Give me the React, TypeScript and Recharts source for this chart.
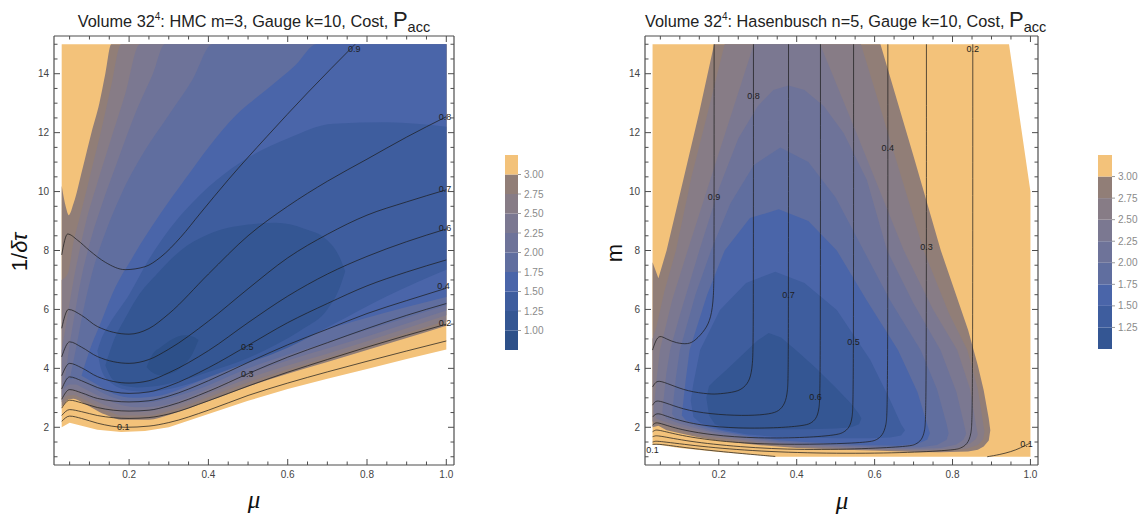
import React from "react";
import { Area, Bar, BarChart, ComposedChart, Line, Scatter, XAxis, YAxis } from "recharts";

// [mu, low, high] for a filled region, [mu, y] for a contour line, [mu, y, text] for a line label
type Band = [number, number, number];
type Pt = [number, number];
type Lbl = [number, number, string];

const MU_DOMAIN: [number, number] = [0.0106, 1.0194];
const Y_DOMAIN: [number, number] = [0.72, 15.28];
const MU_TICKS = [0.05, 0.1, 0.15, 0.2, 0.25, 0.3, 0.35, 0.4, 0.45, 0.5, 0.55, 0.6, 0.65, 0.7, 0.75, 0.8, 0.85, 0.9, 0.95, 1.0];
const MU_MAJOR = [0.2, 0.4, 0.6, 0.8, 1.0];
const Y_TICKS = [1, 1.5, 2, 2.5, 3, 3.5, 4, 4.5, 5, 5.5, 6, 6.5, 7, 7.5, 8, 8.5, 9, 9.5, 10, 10.5, 11, 11.5, 12, 12.5, 13, 13.5, 14, 14.5, 15];
const Y_MAJOR = [2, 4, 6, 8, 10, 12, 14];

// cost bands, from the legend
const C_OVER3 = "#f3c27a";
const C_300 = "#917e77";
const C_275 = "#877c86";
const C_250 = "#7b7891";
const C_225 = "#6e7399";
const C_200 = "#606e9f";
const C_175 = "#4a65a9";
const C_150 = "#3e5d9e";
const C_125 = "#345693";
const C_100 = "#2d5089";

// ---------- left: HMC, axis 1/dtau ----------
const L_BASE: Band[] = [
  [0.03, 2.0, 15], [0.05, 2.15, 15], [0.08, 2.05, 15], [0.12, 1.92, 15], [0.18, 1.84, 15], [0.24, 1.87, 15],
  [0.3, 2.0, 15], [0.4, 2.45, 15], [0.5, 2.9, 15], [0.6, 3.3, 15], [0.7, 3.65, 15], [0.8, 3.98, 15], [0.9, 4.32, 15], [1.0, 4.64, 15],
];
const L_LT300: Band[] = [
  [0.03, 2.7, 10.2], [0.04, 2.85, 9.5], [0.048, 2.95, 9.2], [0.06, 2.97, 9.6], [0.083, 2.83, 10.8], [0.105, 2.67, 12.0],
  [0.125, 2.52, 13.0], [0.14, 2.43, 14.0], [0.155, 2.35, 15], [0.18, 2.26, 15], [0.25, 2.26, 15], [0.3, 2.42, 15],
  [0.4, 2.88, 15], [0.5, 3.38, 15], [0.6, 3.82, 15], [0.7, 4.22, 15], [0.8, 4.62, 15], [0.9, 5.03, 15], [1.0, 5.45, 15],
];
const L_LT275: Band[] = [
  [0.03, 2.85, 7.0], [0.045, 3.08, 7.2], [0.06, 3.1, 8.3], [0.075, 3.02, 9.1], [0.09, 2.92, 9.9], [0.11, 2.78, 11.0],
  [0.13, 2.64, 12.1], [0.155, 2.5, 13.6], [0.18, 2.4, 15], [0.25, 2.4, 15], [0.3, 2.55, 15], [0.4, 3.02, 15],
  [0.5, 3.52, 15], [0.6, 3.96, 15], [0.7, 4.36, 15], [0.8, 4.77, 15], [0.9, 5.2, 15], [1.0, 5.62, 15],
];
const L_LT250: Band[] = [
  [0.03, 3.0, 4.6], [0.045, 3.25, 5.8], [0.06, 3.27, 7.0], [0.075, 3.18, 8.0], [0.09, 3.06, 8.9], [0.12, 2.87, 10.3],
  [0.15, 2.7, 11.6], [0.19, 2.55, 13.3], [0.227, 2.52, 15], [0.3, 2.68, 15], [0.4, 3.15, 15], [0.5, 3.66, 15],
  [0.6, 4.1, 15], [0.7, 4.5, 15], [0.8, 4.92, 15], [0.9, 5.36, 15], [1.0, 5.8, 15],
];
const L_LT225: Band[] = [
  [0.035, 3.3, 3.3], [0.05, 3.45, 4.8], [0.065, 3.45, 6.0], [0.08, 3.36, 7.1], [0.1, 3.22, 8.2], [0.13, 3.02, 9.5],
  [0.17, 2.8, 11.0], [0.22, 2.68, 12.8], [0.26, 2.7, 14.0], [0.29, 2.76, 15], [0.4, 3.3, 15], [0.5, 3.82, 15],
  [0.6, 4.27, 15], [0.7, 4.67, 15], [0.8, 5.08, 15], [0.9, 5.52, 15], [1.0, 5.96, 15],
];
const L_LT200: Band[] = [
  [0.05, 3.62, 3.62], [0.065, 3.65, 4.6], [0.085, 3.55, 6.0], [0.11, 3.34, 7.4], [0.14, 3.12, 8.6], [0.18, 2.93, 9.9],
  [0.24, 2.84, 11.4], [0.3, 2.98, 12.6], [0.36, 3.22, 13.8], [0.41, 3.48, 15], [0.5, 4.0, 15], [0.6, 4.46, 15],
  [0.7, 4.88, 15], [0.8, 5.3, 15], [0.9, 5.72, 15], [1.0, 6.14, 15],
];
const L_LT175: Band[] = [
  [0.08, 3.75, 3.75], [0.1, 3.6, 4.6], [0.13, 3.36, 5.6], [0.16, 3.14, 6.6], [0.21, 3.0, 7.8], [0.28, 3.08, 9.27],
  [0.34, 3.36, 10.4], [0.4, 3.7, 11.5], [0.47, 4.1, 12.6], [0.55, 4.55, 13.5], [0.62, 4.92, 14.3], [0.673, 5.2, 15],
  [0.8, 5.72, 15], [0.9, 6.08, 15], [1.0, 6.42, 15],
];
const L_LT150: Band[] = [
  [0.12, 4.6, 4.6], [0.13, 3.95, 5.0], [0.15, 3.55, 5.5], [0.2, 3.25, 6.5], [0.25, 3.2, 7.7], [0.295, 3.28, 8.6],
  [0.38, 3.6, 9.9], [0.46, 4.0, 10.8], [0.6, 4.7, 11.8], [0.715, 5.5, 12.3], [0.85, 6.45, 12.35], [1.0, 7.35, 12.2],
];
const L_LT125: Band[] = [
  [0.14, 4.1, 4.1], [0.16, 3.6, 4.9], [0.19, 3.4, 5.7], [0.22, 3.35, 6.4], [0.27, 3.4, 7.2], [0.33, 3.58, 8.0],
  [0.4, 3.88, 8.55], [0.5, 4.35, 8.88], [0.57, 4.8, 8.94], [0.64, 5.35, 8.75], [0.7, 6.0, 8.35], [0.73, 6.7, 7.8], [0.745, 7.3, 7.3],
];
const L_LT100: Band[] = [
  [0.244, 4.05, 4.05], [0.26, 3.85, 4.5], [0.278, 3.77, 4.7], [0.31, 3.85, 5.0], [0.34, 4.15, 5.12], [0.36, 4.5, 5.08], [0.375, 4.96, 4.96],
];

const L_P01: Pt[] = [[0.03, 2.2], [0.05, 2.38], [0.08, 2.3], [0.12, 2.14], [0.19, 2.0], [0.25, 2.04], [0.3, 2.16], [0.4, 2.58], [0.5, 3.08], [0.6, 3.5], [0.7, 3.88], [0.8, 4.24], [0.9, 4.59], [1.0, 4.93]];
const L_P02: Pt[] = [[0.03, 2.4], [0.05, 2.6], [0.08, 2.53], [0.12, 2.4], [0.2, 2.3], [0.25, 2.33], [0.3, 2.45], [0.4, 2.9], [0.5, 3.4], [0.6, 3.87], [0.7, 4.3], [0.8, 4.72], [0.9, 5.12], [1.0, 5.5]];
const L_P03: Pt[] = [[0.03, 2.65], [0.05, 2.92], [0.08, 2.83], [0.12, 2.67], [0.2, 2.55], [0.25, 2.58], [0.3, 2.73], [0.4, 3.22], [0.5, 3.82], [0.6, 4.38], [0.7, 4.87], [0.8, 5.35], [0.9, 5.8], [1.0, 6.2]];
const L_P04: Pt[] = [[0.03, 2.95], [0.05, 3.28], [0.08, 3.17], [0.12, 2.98], [0.2, 2.86], [0.25, 2.9], [0.3, 3.06], [0.4, 3.58], [0.5, 4.2], [0.6, 4.8], [0.7, 5.33], [0.8, 5.86], [0.9, 6.3], [1.0, 6.72]];
const L_P05: Pt[] = [[0.03, 3.3], [0.05, 3.71], [0.08, 3.58], [0.12, 3.35], [0.2, 3.15], [0.25, 3.2], [0.3, 3.4], [0.4, 4.02], [0.5, 4.78], [0.6, 5.55], [0.7, 6.2], [0.8, 6.8], [0.9, 7.27], [1.0, 7.68]];
const L_P06: Pt[] = [[0.03, 3.75], [0.05, 4.17], [0.08, 4.02], [0.12, 3.72], [0.2, 3.5], [0.25, 3.58], [0.3, 3.85], [0.4, 4.6], [0.5, 5.55], [0.6, 6.45], [0.7, 7.2], [0.8, 7.8], [0.9, 8.3], [1.0, 8.73]];
const L_P07: Pt[] = [[0.03, 4.39], [0.05, 4.9], [0.08, 4.72], [0.12, 4.4], [0.2, 4.17], [0.25, 4.3], [0.3, 4.65], [0.4, 5.6], [0.5, 6.7], [0.6, 7.75], [0.7, 8.55], [0.8, 9.2], [0.9, 9.65], [1.0, 10.06]];
const L_P08: Pt[] = [[0.03, 5.36], [0.047, 6.0], [0.08, 5.8], [0.12, 5.42], [0.2, 5.16], [0.25, 5.35], [0.3, 5.85], [0.4, 7.2], [0.5, 8.5], [0.6, 9.5], [0.7, 10.35], [0.8, 11.1], [0.9, 11.85], [1.0, 12.54]];
const L_P09: Pt[] = [[0.03, 7.85], [0.045, 8.56], [0.07, 8.35], [0.1, 8.0], [0.14, 7.6], [0.19, 7.35], [0.24, 7.45], [0.28, 7.78], [0.33, 8.45], [0.38, 9.27], [0.45, 10.4], [0.547, 11.86], [0.65, 13.35], [0.77, 15]];

const L_LABELS: Lbl[] = [
  [0.768, 14.85, "0.9"], [0.997, 12.54, "0.8"], [0.997, 10.1, "0.7"], [0.997, 8.78, "0.6"], [0.993, 6.8, "0.4"],
  [0.997, 5.55, "0.2"], [0.498, 4.73, "0.5"], [0.498, 3.8, "0.3"], [0.185, 2.02, "0.1"],
];

// ---------- right: Hasenbusch, axis m ----------
const R_BASE: Band[] = [
  [0.03, 1.4, 15], [0.04, 1.42, 15], [0.1, 1.3, 15], [0.2, 1.16, 15], [0.3, 1.05, 15], [0.34, 1.0, 15], [0.945, 1.0, 15], [1.0, 1.0, 10.0],
];
const R_LT300: Band[] = [
  [0.03, 2.0, 7.6], [0.045, 2.05, 7.06], [0.066, 1.9, 8.0], [0.1, 1.8, 9.9], [0.15, 1.65, 12.7], [0.188, 1.57, 15],
  [0.3, 1.4, 15], [0.4, 1.3, 15], [0.5, 1.25, 15], [0.615, 1.2, 15], [0.7, 1.16, 11.2], [0.77, 1.15, 8.0],
  [0.84, 1.18, 5.3], [0.865, 1.24, 4.1], [0.88, 1.35, 3.26], [0.893, 1.55, 2.3], [0.897, 1.9, 1.9],
];
const R_LT275: Band[] = [
  [0.03, 2.2, 5.0], [0.04, 2.2, 5.4], [0.06, 2.08, 6.6], [0.09, 1.95, 8.0], [0.13, 1.8, 10.5], [0.17, 1.69, 12.6],
  [0.215, 1.61, 15], [0.3, 1.46, 15], [0.4, 1.34, 15], [0.5, 1.28, 15], [0.565, 1.25, 15], [0.65, 1.22, 11.3],
  [0.726, 1.2, 8.0], [0.79, 1.22, 5.9], [0.838, 1.28, 4.62], [0.865, 1.4, 3.3], [0.878, 1.58, 2.2], [0.882, 1.85, 1.85],
];
const R_LT250: Band[] = [
  [0.033, 2.55, 2.55], [0.04, 2.3, 3.6], [0.049, 2.25, 4.62], [0.08, 2.1, 6.3], [0.12, 1.95, 8.0], [0.2, 1.7, 11.3],
  [0.29, 1.52, 15], [0.4, 1.38, 15], [0.46, 1.34, 15], [0.55, 1.29, 12.1], [0.675, 1.24, 8.0], [0.75, 1.24, 6.0],
  [0.812, 1.3, 4.62], [0.845, 1.45, 3.3], [0.86, 1.6, 2.1], [0.865, 1.75, 1.75],
];
const R_LT225: Band[] = [
  [0.055, 2.5, 2.5], [0.065, 2.3, 3.8], [0.075, 2.25, 4.62], [0.1, 2.12, 5.8], [0.15, 1.93, 8.0], [0.2, 1.77, 10.1],
  [0.25, 1.66, 11.8], [0.3, 1.56, 12.9], [0.34, 1.49, 13.45], [0.379, 1.44, 13.6], [0.42, 1.41, 13.45], [0.47, 1.37, 12.9],
  [0.52, 1.34, 12.0], [0.58, 1.31, 10.4], [0.632, 1.29, 8.0], [0.7, 1.27, 6.2], [0.769, 1.3, 4.62], [0.81, 1.42, 3.2],
  [0.828, 1.58, 2.2], [0.835, 1.78, 1.78],
];
const R_LT200: Band[] = [
  [0.08, 2.45, 2.45], [0.09, 2.28, 3.7], [0.1, 2.22, 4.62], [0.14, 2.05, 6.5], [0.18, 1.88, 8.0], [0.23, 1.76, 9.6],
  [0.29, 1.63, 10.9], [0.358, 1.5, 11.5], [0.43, 1.45, 11.0], [0.5, 1.4, 9.8], [0.572, 1.35, 8.0], [0.64, 1.32, 6.3],
  [0.718, 1.32, 4.62], [0.76, 1.4, 3.3], [0.785, 1.58, 2.1], [0.79, 1.8, 1.8],
];
const R_LT175: Band[] = [
  [0.105, 2.4, 2.4], [0.115, 2.25, 3.6], [0.125, 2.2, 4.62], [0.17, 2.0, 6.5], [0.215, 1.86, 8.0], [0.28, 1.7, 9.1],
  [0.354, 1.56, 9.4], [0.43, 1.49, 9.0], [0.503, 1.44, 8.0], [0.58, 1.39, 6.3], [0.66, 1.37, 4.62], [0.71, 1.44, 3.2],
  [0.735, 1.58, 2.1], [0.742, 1.8, 1.8],
];
const R_LT150: Band[] = [
  [0.128, 2.9, 2.9], [0.135, 2.35, 3.5], [0.152, 2.15, 4.62], [0.203, 1.93, 5.98], [0.27, 1.76, 6.9], [0.345, 1.68, 7.28],
  [0.42, 1.65, 6.9], [0.503, 1.63, 5.98], [0.589, 1.63, 4.28], [0.64, 1.65, 2.92], [0.668, 1.72, 2.1], [0.678, 1.9, 1.9],
];
const R_LT125: Band[] = [
  [0.168, 3.0, 3.0], [0.175, 2.4, 3.4], [0.19, 2.1, 3.6], [0.22, 1.98, 3.95], [0.26, 1.94, 4.45], [0.3, 1.93, 4.95],
  [0.328, 1.93, 5.2], [0.36, 1.93, 5.05], [0.4, 1.93, 4.6], [0.45, 1.94, 4.0], [0.5, 1.96, 3.35], [0.54, 2.0, 2.8],
  [0.56, 2.1, 2.45], [0.566, 2.3, 2.3],
];

const R_P09: Pt[] = [[0.188, 15], [0.188, 7.5], [0.187, 6.4], [0.18, 5.7], [0.165, 5.3], [0.14, 4.95], [0.122, 4.81], [0.09, 4.86], [0.065, 5.0], [0.048, 5.13], [0.038, 4.95], [0.03, 4.62]];
const R_P08: Pt[] = [[0.289, 15], [0.289, 5], [0.287, 4.1], [0.28, 3.6], [0.265, 3.35], [0.246, 3.2], [0.2, 3.13], [0.177, 3.12], [0.12, 3.22], [0.075, 3.45], [0.045, 3.6], [0.036, 3.5], [0.03, 3.37]];
const R_P07: Pt[] = [[0.379, 15], [0.379, 4], [0.377, 3.2], [0.37, 2.8], [0.355, 2.55], [0.332, 2.45], [0.28, 2.39], [0.2, 2.42], [0.12, 2.56], [0.07, 2.8], [0.042, 2.92], [0.035, 2.85], [0.03, 2.75]];
const R_P06: Pt[] = [[0.461, 15], [0.461, 3.3], [0.458, 2.6], [0.45, 2.28], [0.435, 2.12], [0.418, 2.06], [0.36, 1.98], [0.25, 1.96], [0.15, 2.06], [0.08, 2.3], [0.045, 2.49], [0.036, 2.43], [0.03, 2.35]];
const R_P05: Pt[] = [[0.546, 15], [0.546, 3.0], [0.543, 2.3], [0.535, 1.98], [0.52, 1.82], [0.503, 1.74], [0.43, 1.65], [0.3, 1.62], [0.18, 1.73], [0.09, 1.95], [0.042, 2.18], [0.035, 2.13], [0.03, 2.07]];
const R_P04: Pt[] = [[0.634, 15], [0.634, 2.7], [0.63, 2.05], [0.62, 1.72], [0.605, 1.57], [0.589, 1.5], [0.5, 1.43], [0.33, 1.41], [0.2, 1.52], [0.1, 1.72], [0.042, 1.93], [0.035, 1.89], [0.03, 1.85]];
const R_P03: Pt[] = [[0.733, 15], [0.733, 2.5], [0.729, 1.85], [0.72, 1.55], [0.705, 1.42], [0.692, 1.36], [0.6, 1.28], [0.418, 1.22], [0.25, 1.33], [0.12, 1.52], [0.042, 1.73], [0.035, 1.7], [0.03, 1.68]];
const R_P02: Pt[] = [[0.852, 15], [0.852, 2.4], [0.848, 1.75], [0.838, 1.42], [0.82, 1.28], [0.803, 1.23], [0.7, 1.14], [0.503, 1.1], [0.3, 1.18], [0.15, 1.35], [0.042, 1.54], [0.035, 1.52], [0.03, 1.5]];
const R_P01A: Pt[] = [[0.03, 1.42], [0.05, 1.43], [0.1, 1.33], [0.2, 1.18], [0.3, 1.06], [0.345, 1.01]];
const R_P01B: Pt[] = [[0.889, 1.0], [0.92, 1.07], [0.95, 1.17], [0.975, 1.3], [1.0, 1.47]];

const R_LABELS: Lbl[] = [
  [0.188, 9.8, "0.9"], [0.289, 13.23, "0.8"], [0.379, 6.49, "0.7"], [0.448, 3.03, "0.6"], [0.546, 4.88, "0.5"],
  [0.634, 11.48, "0.4"], [0.733, 8.11, "0.3"], [0.852, 14.85, "0.2"], [0.03, 1.22, "0.1"], [0.99, 1.44, "0.1"],
];

// legend levels
const L_BAR_LEVELS = [1.0, 1.25, 1.5, 1.75, 2.0, 2.25, 2.5, 2.75, 3.0];
const L_BAR_COLORS = [C_100, C_125, C_150, C_175, C_200, C_225, C_250, C_275, C_300, C_OVER3];
const R_BAR_LEVELS = [1.25, 1.5, 1.75, 2.0, 2.25, 2.5, 2.75, 3.0];
const R_BAR_COLORS = [C_125, C_150, C_175, C_200, C_225, C_250, C_275, C_300, C_OVER3];

const FRAME = "#4d4d4d";
const SANS = "'Liberation Sans', Arial, Helvetica, sans-serif";

function makeTick(side: "bottom" | "top" | "left" | "right", major: number[], labels: boolean) {
  return (p: any) => {
    const v: number = p.payload.value;
    const big = major.some((m) => Math.abs(m - v) < 1e-9);
    const len = big ? 6 : 3.5;
    const x = p.x;
    const y = p.y;
    let x2 = x;
    let y2 = y;
    if (side === "bottom") y2 = y - len;
    if (side === "top") y2 = y + len;
    if (side === "left") x2 = x + len;
    if (side === "right") x2 = x - len;
    return (
      <g>
        <line x1={x} y1={y} x2={x2} y2={y2} stroke={FRAME} strokeWidth={1} />
        {labels && big && side === "bottom" && (
          <text x={x} y={y + 13} textAnchor="middle" fontSize={10} fill="#444" fontFamily={SANS}>
            {v.toFixed(1)}
          </text>
        )}
        {labels && big && side === "left" && (
          <text x={x - 5} y={y + 3.5} textAnchor="end" fontSize={10} fill="#444" fontFamily={SANS}>
            {v}
          </text>
        )}
      </g>
    );
  };
}

const LabelShape = (p: any) => (
  <text x={p.cx} y={p.cy + 3} textAnchor="middle" fontSize={9} fill="#1e1e1e" fontFamily={SANS}>
    {p.payload.t}
  </text>
);

function ContourPanel(props: {
  width: number;
  base: Band[];
  regions: { data: Band[]; fill: string }[];
  lines: Pt[][];
  labels: Lbl[];
  areaCurve: "monotone" | "linear";
  lineCurve: "monotone" | "basis";
}) {
  const toBand = (b: Band[]) => b.map(([x, lo, hi]) => ({ x, r: [lo, hi] }));
  const toPts = (p: Pt[]) => p.map(([x, y]) => ({ x, y }));
  const labelData = props.labels.map(([x, y, t]) => ({ x, y, t }));
  return (
    <ComposedChart width={props.width} height={515} margin={{ top: 35, right: 15, bottom: 20, left: 24 }}>
      <XAxis xAxisId="b" type="number" dataKey="x" domain={MU_DOMAIN} allowDataOverflow ticks={MU_TICKS} interval={0}
        height={30} tickSize={0} tickMargin={0} tickLine={false} axisLine={{ stroke: FRAME, strokeWidth: 1.2 }}
        tick={makeTick("bottom", MU_MAJOR, true)} />
      <XAxis xAxisId="t" orientation="top" type="number" dataKey="x" domain={MU_DOMAIN} allowDataOverflow ticks={MU_TICKS}
        interval={0} height={1} tickSize={0} tickMargin={0} tickLine={false} axisLine={{ stroke: FRAME, strokeWidth: 1.2 }}
        tick={makeTick("top", MU_MAJOR, false)} />
      <YAxis yAxisId="l" type="number" domain={Y_DOMAIN} allowDataOverflow ticks={Y_TICKS} interval={0} width={30}
        tickSize={0} tickMargin={0} tickLine={false} axisLine={{ stroke: FRAME, strokeWidth: 1.2 }}
        tick={makeTick("left", Y_MAJOR, true)} />
      <YAxis yAxisId="r" orientation="right" type="number" domain={Y_DOMAIN} allowDataOverflow ticks={Y_TICKS} interval={0}
        width={1} tickSize={0} tickMargin={0} tickLine={false} axisLine={{ stroke: FRAME, strokeWidth: 1.2 }}
        tick={makeTick("right", Y_MAJOR, false)} />
      <Area xAxisId="b" yAxisId="l" data={toBand(props.base)} dataKey="r" type="linear" stroke="none"
        fill={C_OVER3} fillOpacity={1} isAnimationActive={false} dot={false} activeDot={false} />
      {props.regions.map((r, i) => (
        <Area key={"r" + i} xAxisId="b" yAxisId="l" data={toBand(r.data)} dataKey="r" type={props.areaCurve}
          stroke="none" fill={r.fill} fillOpacity={1} isAnimationActive={false} dot={false} activeDot={false} />
      ))}
      {props.lines.map((l, i) => (
        <Line key={"l" + i} xAxisId="b" yAxisId="l" data={toPts(l)} dataKey="y" type={props.lineCurve}
          stroke="#1c1c1c" strokeOpacity={0.8} strokeWidth={0.9} dot={false} activeDot={false} isAnimationActive={false} />
      ))}
      <Scatter xAxisId="b" yAxisId="l" data={labelData} dataKey="y" shape={LabelShape} isAnimationActive={false} />
    </ComposedChart>
  );
}

function ColorBar(props: { levels: number[]; colors: string[]; bottom: number; top: number; barWidth: number; barHeight: number }) {
  const { levels, colors, bottom, top } = props;
  const row: Record<string, number | string> = { k: "legend" };
  levels.forEach((v, i) => (row["s" + i] = i === 0 ? v : v - levels[i - 1]));
  row["s" + levels.length] = top - levels[levels.length - 1];
  return (
    <BarChart width={10 + props.barWidth + 37} height={props.barHeight + 20} data={[row]}
      margin={{ top: 10, right: 0, bottom: 10, left: 10 }} barCategoryGap={0} barGap={0}>
      <XAxis dataKey="k" hide />
      <YAxis orientation="right" type="number" domain={[bottom, top]} allowDataOverflow ticks={levels} interval={0}
        width={37} axisLine={false} tickSize={3} tickMargin={3} tickLine={{ stroke: "#9a9a9a" }}
        tick={{ fontSize: 10, fill: "#8a8a8a", fontFamily: SANS }} tickFormatter={(v: number) => v.toFixed(2)} />
      {colors.map((c, i) => (
        <Bar key={i} dataKey={"s" + i} stackId="c" fill={c} isAnimationActive={false} />
      ))}
    </BarChart>
  );
}

function Title(props: { left: number; width: number; text: string }) {
  return (
    <div style={{ position: "absolute", left: props.left, width: props.width, top: 8, textAlign: "center",
      fontFamily: SANS, fontSize: 16.3, lineHeight: "24px", whiteSpace: "nowrap", color: "#222" }}>
      Volume 32<span style={{ fontSize: 10, position: "relative", top: -7 }}>4</span>: {props.text}, Cost,{" "}
      <span style={{ fontSize: 22 }}>P</span>
      <span style={{ fontSize: 14.5, position: "relative", top: 5 }}>acc</span>
    </div>
  );
}

export default function App() {
  const leftRegions = [
    { data: L_LT300, fill: C_300 }, { data: L_LT275, fill: C_275 }, { data: L_LT250, fill: C_250 },
    { data: L_LT225, fill: C_225 }, { data: L_LT200, fill: C_200 }, { data: L_LT175, fill: C_175 },
    { data: L_LT150, fill: C_150 }, { data: L_LT125, fill: C_125 }, { data: L_LT100, fill: C_100 },
  ];
  const rightRegions = [
    { data: R_LT300, fill: C_300 }, { data: R_LT275, fill: C_275 }, { data: R_LT250, fill: C_250 },
    { data: R_LT225, fill: C_225 }, { data: R_LT200, fill: C_200 }, { data: R_LT175, fill: C_175 },
    { data: R_LT150, fill: C_150 }, { data: R_LT125, fill: C_125 },
  ];
  return (
    <div style={{ position: "absolute", left: 0, top: 0, width: 1141, height: 515, background: "#fff", overflow: "hidden" }}>
      <Title left={54} width={400} text="HMC m=3, Gauge k=10" />
      <Title left={645} width={393} text="Hasenbusch n=5, Gauge k=10" />

      <div style={{ position: "absolute", left: 0, top: 0 }}>
        <ContourPanel width={470} base={L_BASE} regions={leftRegions}
          lines={[L_P01, L_P02, L_P03, L_P04, L_P05, L_P06, L_P07, L_P08, L_P09]}
          labels={L_LABELS} areaCurve="monotone" lineCurve="monotone" />
      </div>
      <div style={{ position: "absolute", left: 591, top: 0 }}>
        <ContourPanel width={463} base={R_BASE} regions={rightRegions}
          lines={[R_P01A, R_P01B, R_P02, R_P03, R_P04, R_P05, R_P06, R_P07, R_P08, R_P09]}
          labels={R_LABELS} areaCurve="linear" lineCurve="basis" />
      </div>

      <div style={{ position: "absolute", left: 495, top: 145 }}>
        <ColorBar levels={L_BAR_LEVELS} colors={L_BAR_COLORS} bottom={0.75} top={3.25} barWidth={13} barHeight={195} />
      </div>
      <div style={{ position: "absolute", left: 1088, top: 145 }}>
        <ColorBar levels={R_BAR_LEVELS} colors={R_BAR_COLORS} bottom={1.0} top={3.25} barWidth={14} barHeight={194} />
      </div>

      <div style={{ position: "absolute", left: 20, top: 252, transform: "translate(-50%, -50%) rotate(-90deg)",
        fontFamily: SANS, fontSize: 22, lineHeight: "24px", whiteSpace: "nowrap", color: "#111" }}>
        1/<i>δτ</i>
      </div>
      <div style={{ position: "absolute", left: 615, top: 253, transform: "translate(-50%, -50%) rotate(-90deg)",
        fontFamily: SANS, fontSize: 22, lineHeight: "24px", whiteSpace: "nowrap", color: "#111" }}>
        m
      </div>
      <div style={{ position: "absolute", left: 254, top: 500, transform: "translate(-50%, -50%)",
        fontFamily: "'Liberation Serif', 'Times New Roman', serif", fontStyle: "italic", fontSize: 25, lineHeight: "24px", color: "#111" }}>
        μ
      </div>
      <div style={{ position: "absolute", left: 842, top: 501, transform: "translate(-50%, -50%)",
        fontFamily: "'Liberation Serif', 'Times New Roman', serif", fontStyle: "italic", fontSize: 25, lineHeight: "24px", color: "#111" }}>
        μ
      </div>
    </div>
  );
}
